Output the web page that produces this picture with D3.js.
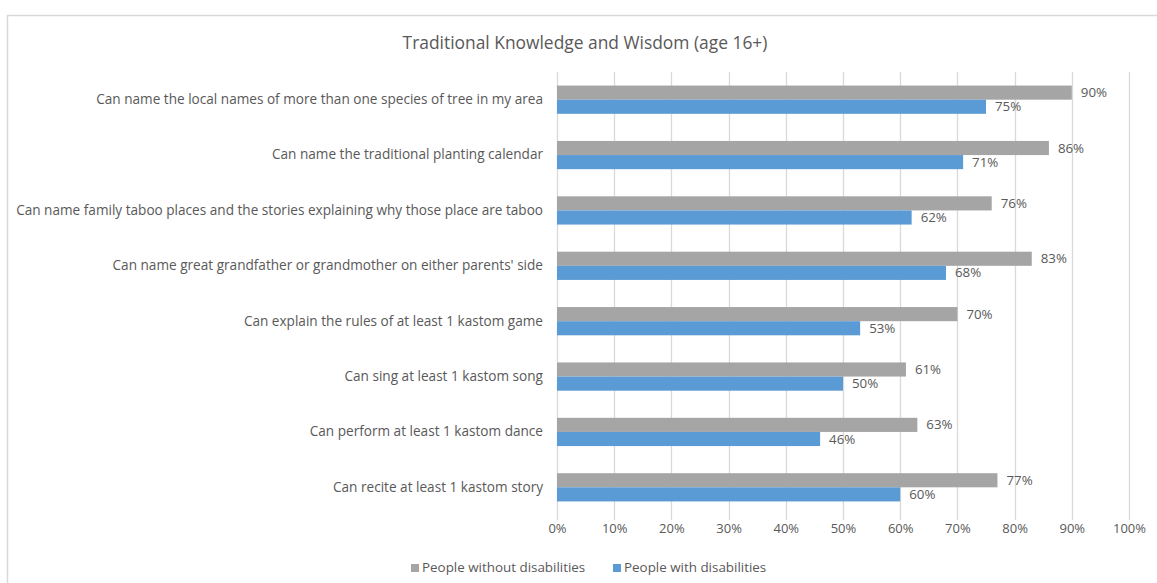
<!DOCTYPE html>
<html>
<head>
<meta charset="utf-8">
<script src="https://cdn.jsdelivr.net/npm/d3@7"></script>
<style>
  html, body { margin: 0; padding: 0; background: #fff; }
  svg { display: block; font-family: "Open Sans", Lato, sans-serif; }
</style>
</head>
<body>
<svg id="chart" width="1157" height="583"></svg>
<script>
// Survey items, top to bottom
const categories = [
  "Can name the local names of more than one species of tree in my area",
  "Can name the traditional planting calendar",
  "Can name family taboo places and the stories explaining why those place are taboo",
  "Can name great grandfather or grandmother on either parents' side",
  "Can explain the rules of at least 1 kastom game",
  "Can sing at least 1 kastom song",
  "Can perform at least 1 kastom dance",
  "Can recite at least 1 kastom story"
];
const withoutDisabilities = [90, 86, 76, 83, 70, 61, 63, 77];
const withDisabilities = [75, 71, 62, 68, 53, 50, 46, 60];
const seriesNames = ["People without disabilities", "People with disabilities"];
const seriesColors = ["#A5A5A5", "#5B9BD5"];
const xTicks = [0, 10, 20, 30, 40, 50, 60, 70, 80, 90, 100];
const title = "Traditional Knowledge and Wisdom (age 16+)";

const svg = d3.select("#chart");
const textColor = "#595959";
const font = "'Open Sans', Lato, sans-serif";

// chart frame
svg.append("rect")
  .attr("x", 7.5).attr("y", 15.5)
  .attr("width", 1160).attr("height", 580)
  .attr("fill", "#fff").attr("stroke", "#D9D9D9").attr("stroke-width", 1.5);

svg.append("text")
  .attr("x", 585).attr("y", 49)
  .attr("text-anchor", "middle")
  .attr("fill", textColor)
  .attr("font-size", 17.4)
  .text(title);

const plot = { left: 557, right: 1129, top: 72, bottom: 515 };

const x = d3.scaleLinear().domain([0, 100]).range([plot.left, plot.right]);
const y = d3.scaleBand().domain(categories).range([plot.top, plot.bottom]).paddingInner(0.49).paddingOuter(0.245);
const sub = d3.scaleBand().domain([0, 1]).range([0, y.bandwidth()]);

// gridlines with small tick marks below
const grid = svg.append("g");
grid.selectAll("line").data(xTicks).join("line")
  .attr("x1", d => Math.round(x(d)) + 0.5).attr("x2", d => Math.round(x(d)) + 0.5)
  .attr("y1", plot.top).attr("y2", plot.bottom + 5)
  .attr("stroke", "#D9D9D9").attr("stroke-width", 1.3);

// x axis labels
const xAxis = d3.axisBottom(x).tickValues(xTicks).tickFormat(d => d + "%").tickSize(0).tickPadding(0);
const ax = svg.append("g").attr("transform", `translate(0,${plot.bottom + 9})`).call(xAxis);
ax.select(".domain").remove();
ax.selectAll("text").attr("fill", textColor).attr("font-size", 13).attr("font-family", font);

// category labels
const yAxis = d3.axisLeft(y).tickSize(0).tickPadding(0);
const ay = svg.append("g").attr("transform", `translate(${plot.left - 14},0)`).call(yAxis);
ay.select(".domain").remove();
ay.selectAll("text").attr("fill", textColor).attr("font-size", 13.6).attr("font-family", font);

const rows = categories.map((c, i) => ({ c, vals: [withoutDisabilities[i], withDisabilities[i]] }));

const groups = svg.append("g").selectAll("g").data(rows).join("g")
  .attr("transform", d => `translate(0,${y(d.c)})`);

groups.selectAll("rect").data(d => d.vals.map((v, k) => ({ v, k }))).join("rect")
  .attr("x", x(0))
  .attr("y", d => sub(d.k))
  .attr("width", d => x(d.v) - x(0))
  .attr("height", sub.bandwidth())
  .attr("fill", d => seriesColors[d.k]);

groups.selectAll("text.val").data(d => d.vals.map((v, k) => ({ v, k }))).join("text")
  .attr("class", "val")
  .attr("x", d => x(d.v) + 9)
  .attr("y", d => sub(d.k) + sub.bandwidth() / 2 + 1)
  .attr("dominant-baseline", "middle")
  .attr("fill", textColor)
  .attr("font-size", 13.3)
  .text(d => d.v + "%");

// legend
const legend = svg.append("g").attr("transform", "translate(0,568)");
const legendX = [411, 613];
seriesNames.forEach((name, i) => {
  legend.append("rect")
    .attr("x", legendX[i]).attr("y", -4)
    .attr("width", 8).attr("height", 8)
    .attr("fill", seriesColors[i]);
  legend.append("text")
    .attr("x", legendX[i] + 11).attr("y", 0)
    .attr("dominant-baseline", "middle")
    .attr("fill", textColor)
    .attr("font-size", 13.4)
    .text(name);
});
</script>
</body>
</html>
